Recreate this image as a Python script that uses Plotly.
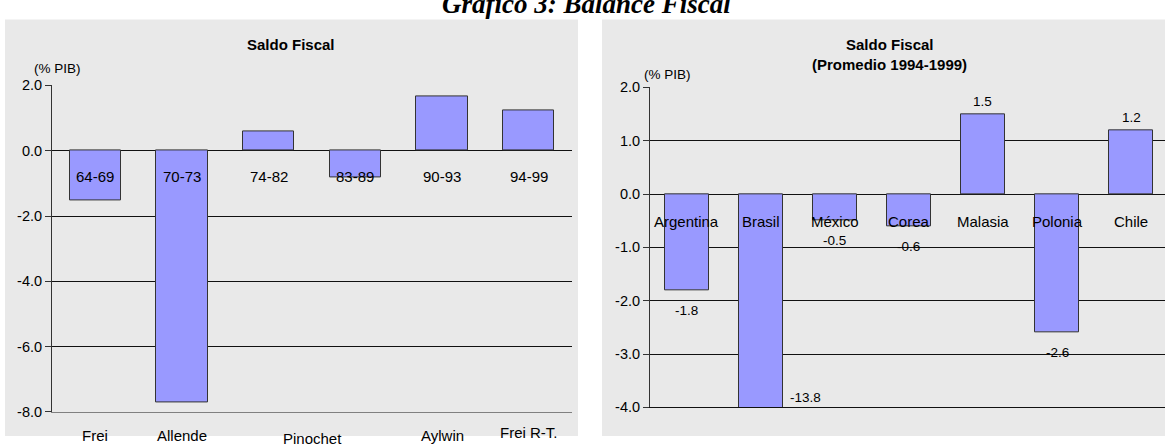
import plotly.graph_objects as go

# Saldo fiscal de Chile por período de gobierno (% del PIB)
periodos = ["64-69", "70-73", "74-82", "83-89", "90-93", "94-99"]
saldo_chile = [-1.53, -7.72, 0.58, -0.81, 1.66, 1.23]
gobiernos = ["Frei", "Allende", "Pinochet", "Aylwin", "Frei R-T."]
gobierno_periodos = [[0], [1], [2, 3], [4], [5]]
ticks_chile = [2, 0, -2, -4, -6, -8]

# Saldo fiscal promedio 1994-1999 por país (% del PIB)
paises = ["Argentina", "Brasil", "México", "Corea", "Malasia", "Polonia", "Chile"]
saldo_paises = [-1.8, -13.8, -0.5, -0.6, 1.5, -2.6, 1.2]
ticks_paises = [2, 1, 0, -1, -2, -3, -4]

W, H = 1165, 444
FONT = "Liberation Sans, Arial, sans-serif"
BAR_FILL = "#9999FF"
BAR_EDGE = "#333333"
PANEL = "#E9E9E9"


def px_x(p):
    return p / W


def px_y(p):
    return 1 - p / H


# panel geometry (pixels)
left_x = [52, 572]
left_y = [419, 80.3]
right_x = [650, 1168]
right_y = [414.3, 82.3]

left_range_y = [min(ticks_chile), max(ticks_chile)]
right_range_y = [min(ticks_paises), max(ticks_paises)]

left_xdom = [px_x(left_x[0]), px_x(left_x[1])]
left_ydom = [px_y(left_y[0]), px_y(left_y[1])]
right_xdom = [px_x(right_x[0]), 1.0]
right_ydom = [px_y(right_y[0]), px_y(right_y[1])]

n_left = len(periodos)
n_right = len(paises)
left_range_x = [-0.5, n_left - 0.5]
cat_w_right = (right_x[1] - right_x[0]) / n_right
right_range_x = [-0.5, -0.5 + (W - right_x[0]) / cat_w_right]


def zero_pos(dom, rng):
    return dom[0] + (0 - rng[0]) / (rng[1] - rng[0]) * (dom[1] - dom[0])


fig = go.Figure()

fig.add_trace(go.Bar(
    x=list(range(n_left)), y=saldo_chile, width=0.59,
    marker=dict(color=BAR_FILL, line=dict(color=BAR_EDGE, width=1)),
    xaxis="x", yaxis="y", showlegend=False, hoverinfo="skip",
))
fig.add_trace(go.Bar(
    x=list(range(n_right)), y=saldo_paises, width=0.59,
    marker=dict(color=BAR_FILL, line=dict(color=BAR_EDGE, width=1)),
    xaxis="x2", yaxis="y2", showlegend=False, hoverinfo="skip",
))

tickfont = dict(family=FONT, size=14.5, color="black")

common_y = dict(
    showline=True, linecolor="#333333", linewidth=1,
    ticks="outside", ticklen=6, tickcolor="#333333",
    showgrid=True, gridcolor="#111111", gridwidth=1,
    zeroline=False, tickfont=tickfont, fixedrange=True,
)
base_x = dict(
    showticklabels=False, ticks="", showgrid=False, zeroline=False,
    fixedrange=True,
)
zero_x = dict(
    showline=True, linecolor="#111111", linewidth=1,
    ticks="outside", ticklen=5, tickcolor="#111111",
    showticklabels=False, showgrid=False, zeroline=False, fixedrange=True,
)

fig.update_layout(
    width=W, height=H,
    margin=dict(l=0, r=0, t=0, b=0),
    paper_bgcolor="white",
    plot_bgcolor="rgba(0,0,0,0)",
    bargap=0,
    xaxis=dict(domain=left_xdom, range=left_range_x, anchor="y",
               showline=True, linecolor="#808080", linewidth=1, **base_x),
    yaxis=dict(domain=left_ydom, range=left_range_y, anchor="x",
               tickvals=ticks_chile,
               ticktext=[f"{v:.1f}" for v in ticks_chile], **common_y),
    xaxis3=dict(overlaying="x", anchor="free",
                position=zero_pos(left_ydom, left_range_y),
                range=left_range_x,
                tickvals=[i - 0.5 for i in range(n_left + 1)], **zero_x),
    xaxis2=dict(domain=right_xdom, range=right_range_x, anchor="y2",
                showline=True, linecolor="#111111", linewidth=1, **base_x),
    yaxis2=dict(domain=right_ydom, range=right_range_y, anchor="x2",
                tickvals=ticks_paises,
                ticktext=[f"{v:.1f}" for v in ticks_paises], **common_y),
    xaxis4=dict(overlaying="x2", anchor="free",
                position=zero_pos(right_ydom, right_range_y),
                range=right_range_x,
                tickvals=[i - 0.5 for i in range(n_right + 1)], **zero_x),
)

# textured-gray chart areas
fig.add_shape(type="rect", xref="paper", yref="paper", layer="below",
              x0=px_x(5), x1=px_x(578), y0=0, y1=px_y(12),
              fillcolor=PANEL, line=dict(width=0))
fig.add_shape(type="rect", xref="paper", yref="paper", layer="below",
              x0=px_x(602), x1=1.0, y0=0, y1=px_y(12),
              fillcolor=PANEL, line=dict(width=0))

ann = []

# main heading
ann.append(dict(text="<b><i>Gráfico 3: Balance Fiscal</i></b>",
                xref="paper", yref="paper", x=px_x(587), y=px_y(-4),
                xanchor="center", yanchor="middle", showarrow=False,
                font=dict(family="Liberation Serif, Times New Roman, serif",
                          size=27, color="black")))

# panel titles
ann.append(dict(text="<b>Saldo Fiscal</b>", xref="paper", yref="paper",
                x=px_x(291), y=px_y(38), xanchor="center", yanchor="middle",
                showarrow=False, font=dict(family=FONT, size=15, color="black")))
ann.append(dict(text="<b>Saldo Fiscal</b>", xref="paper", yref="paper",
                x=px_x(890), y=px_y(38), xanchor="center", yanchor="middle",
                showarrow=False, font=dict(family=FONT, size=15, color="black")))
ann.append(dict(text="<b>(Promedio 1994-1999)</b>", xref="paper", yref="paper",
                x=px_x(889), y=px_y(59), xanchor="center", yanchor="middle",
                showarrow=False, font=dict(family=FONT, size=15, color="black")))

# unit labels
ann.append(dict(text="(% PIB)", xref="paper", yref="paper",
                x=px_x(57), y=px_y(63), xanchor="center", yanchor="middle",
                showarrow=False, font=dict(family=FONT, size=13.5, color="black")))
ann.append(dict(text="(% PIB)", xref="paper", yref="paper",
                x=px_x(668), y=px_y(69), xanchor="center", yanchor="middle",
                showarrow=False, font=dict(family=FONT, size=13.5, color="black")))

# category labels next to the zero axis
for i, p in enumerate(periodos):
    ann.append(dict(text=p, xref="x", yref="y", x=i, y=0, yshift=-26,
                    xanchor="center", yanchor="middle", showarrow=False,
                    font=dict(family=FONT, size=15, color="black")))
for i, p in enumerate(paises):
    ann.append(dict(text=p, xref="x2", yref="y2", x=i, y=0, yshift=-27,
                    xanchor="center", yanchor="middle", showarrow=False,
                    font=dict(family=FONT, size=15, color="black")))

# government names under the periods
gob_shift = {"Pinochet": -3, "Frei R-T.": 3}
for g, idx in zip(gobiernos, gobierno_periodos):
    ann.append(dict(text=g, xref="x", yref="paper",
                    x=sum(idx) / len(idx), y=px_y(443),
                    yshift=gob_shift.get(g, 0),
                    xanchor="center", yanchor="middle", showarrow=False,
                    font=dict(family=FONT, size=15, color="black")))

# value labels on the country bars
ymin = right_range_y[0]
for i, v in enumerate(saldo_paises):
    if v < ymin:
        ann.append(dict(text=f"{v:.1f}", xref="x2", yref="y2", x=i, y=ymin,
                        xshift=45, yshift=10, xanchor="center", yanchor="middle",
                        showarrow=False,
                        font=dict(family=FONT, size=13.5, color="black")))
    else:
        ann.append(dict(text=f"{v:.1f}", xref="x2", yref="y2", x=i, y=v,
                        yshift=(13 if v >= 0 else -20),
                        xanchor="center", yanchor="middle", showarrow=False,
                        font=dict(family=FONT, size=13.5, color="black")))

fig.update_layout(annotations=ann)

fig.write_html("out.html")
